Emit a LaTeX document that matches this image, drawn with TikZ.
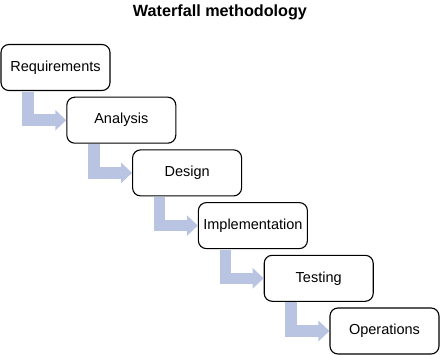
\documentclass[tikz,border=0pt]{standalone}
\usepackage{fontspec}
\setmainfont{Liberation Sans}
\usetikzlibrary{arrows.meta,calc}
\definecolor{flowblue}{HTML}{B8C4E2}
\tikzset{
  stage/.style={draw=black, line width=1.1pt, rounded corners=8pt, fill=white,
    minimum width=109pt, minimum height=46pt, inner sep=0pt,
    font=\fontsize{14.5}{16}\selectfont},
  flow/.style={draw=flowblue, line width=11.5pt, line join=miter,
    -{Triangle[length=11pt,width=20pt]}},
  heading/.style={font=\fontsize{16.2}{18}\selectfont\bfseries}
}
\begin{document}
\begin{tikzpicture}[x=1pt,y=-1pt]
  \useasboundingbox (0,0) rectangle (441,355);
  \node[heading] (title) at (220,12) {Waterfall methodology};
  % stages, stepping down and to the right
  \node[stage] (s1) at (55.5,67.5)  {Requirements};
  \node[stage] (s2) at (121.3,120.2) {Analysis};
  \node[stage] (s3) at (187.1,172.9) {Design};
  \node[stage] (s4) at (252.9,225.6) {Implementation};
  \node[stage] (s5) at (318.7,278.3) {Testing};
  \node[stage] (s6) at (384.5,331.0) {Operations};
  % bent arrows from each stage to the next
  \foreach \a/\b in {s1/s2,s2/s3,s3/s4,s4/s5,s5/s6}{
    \draw[flow] ($(\a.south west)+(27.5,0.6)$) |- (\b.west);
  }
\end{tikzpicture}
\end{document}
